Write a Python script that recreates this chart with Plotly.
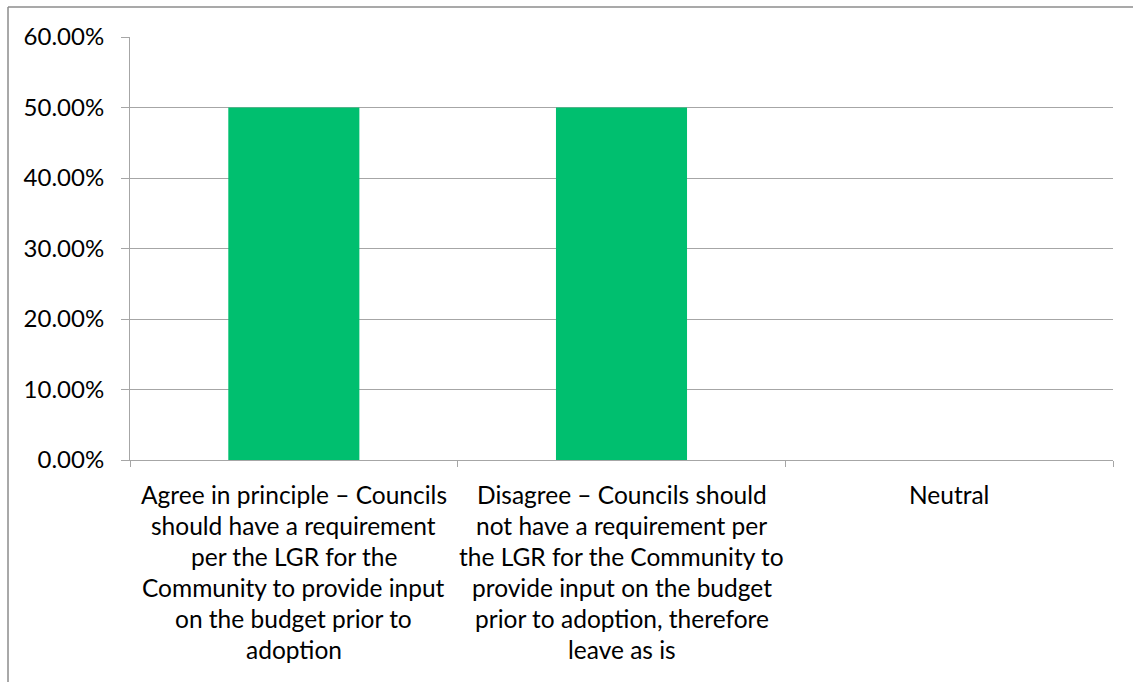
import plotly.graph_objects as go

# Survey responses: share of respondents per option
categories = ["Agree", "Disagree", "Neutral"]
shares = [0.50, 0.50, 0.0]
category_lines = [
    ["Agree in principle – Councils",
     "should have a requirement",
     "per the LGR for the",
     "Community to provide input",
     "on the budget prior to",
     "adoption"],
    ["Disagree – Councils should",
     "not have a requirement per",
     "the LGR for the Community to",
     "provide input on the budget",
     "prior to adoption, therefore",
     "leave as is"],
    ["Neutral"],
]
y_ticks = [0, 0.1, 0.2, 0.3, 0.4, 0.5, 0.6]

FONT = "Lato"
AXIS_GREY = "#A6A6A6"

fig = go.Figure()
fig.add_trace(go.Bar(
    x=categories,
    y=shares,
    marker=dict(color="#00BF6F", line=dict(width=0)),
    width=0.4,
    hoverinfo="skip",
))

# Multi-line category labels, one annotation per text line under each bar
annotations = []
for cat, lines in zip(categories, category_lines):
    for j, line in enumerate(lines):
        annotations.append(dict(
            x=cat, y=0, xref="x", yref="y",
            text=line, showarrow=False,
            xanchor="center", yanchor="middle",
            yshift=-34 - 31 * j,
            font=dict(family=FONT, size=24.5, color="#000000"),
        ))

fig.update_layout(
    width=1133, height=682,
    margin=dict(l=130, r=20, t=37, b=222),
    paper_bgcolor="white",
    plot_bgcolor="white",
    showlegend=False,
    bargap=0.6,
    font=dict(family=FONT, size=24, color="#000000"),
    annotations=annotations,
    shapes=[
        # chart-area outline (left and top edges)
        dict(type="line", xref="paper", yref="paper",
             x0=-0.1241, x1=-0.1241, y0=1.0709, y1=-0.6, line=dict(color="#8C8C8C", width=1.5)),
        dict(type="line", xref="paper", yref="paper",
             x0=-0.1241, x1=1.05, y0=1.0709, y1=1.0709, line=dict(color="#8C8C8C", width=1.5)),
    ],
)

fig.update_xaxes(
    type="category",
    showticklabels=False,
    showline=True, linecolor=AXIS_GREY, linewidth=1,
    ticks="outside", ticklen=6, tickcolor=AXIS_GREY, tickwidth=1,
    tickson="boundaries",
    showgrid=False, zeroline=False,
)
fig.update_yaxes(
    range=[0, 0.6],
    tickvals=y_ticks,
    tickformat=".2%",
    showline=True, linecolor=AXIS_GREY, linewidth=1,
    ticks="outside", ticklen=8, tickcolor=AXIS_GREY, tickwidth=1,
    ticklabelstandoff=12,
    showgrid=True, gridcolor=AXIS_GREY, gridwidth=1,
    zeroline=False,
    tickfont=dict(family=FONT, size=24, color="#000000"),
)

fig.write_html("out.html")
